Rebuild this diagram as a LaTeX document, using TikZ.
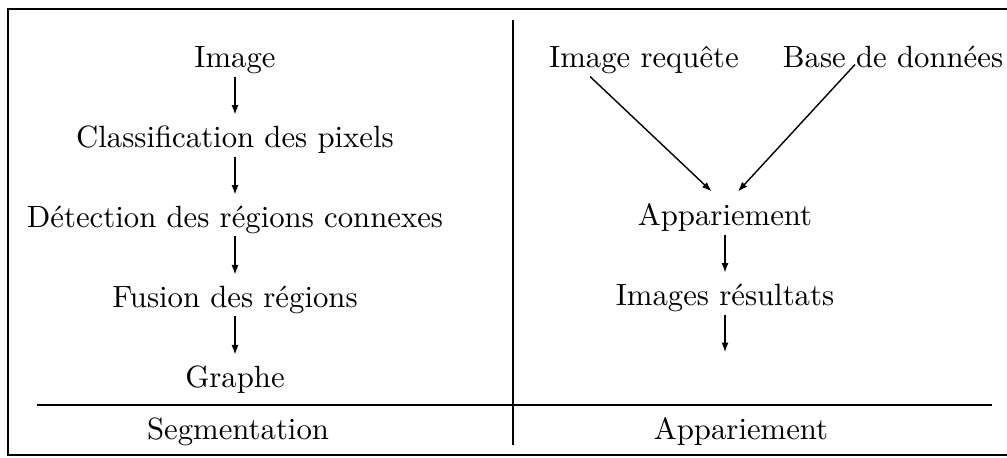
\documentclass[tikz,border=0pt]{standalone}
\usepackage{fontspec}
\setmainfont{lmroman10-regular}[Extension=.otf]
\usetikzlibrary{arrows.meta,positioning}

\begin{document}
\begin{tikzpicture}[x=0.02cm,y=-0.02cm,node distance=1.6cm,line width=0.8pt,
  >={Latex[length=5.5pt,width=4pt]},
  every node/.style={inner sep=1pt,text height=12.5pt,text depth=3.5pt,
    font=\fontsize{17.5}{21}\selectfont}]
\useasboundingbox (0,0) rectangle (1007,457);
% frame and separators
\draw (8,9) rectangle (1020,455);
\draw (37,405) -- (992,405);
\draw (513,20) -- (513,445);
% segmentation
\node	(img)	at (235,60)		{Image};
\node	(cls)	[below of=img]	{Classification des pixels};
\node	(det)	[below of=cls]	{Détection des régions connexes};
\node	(fus)	[below of=det]	{Fusion des régions};
\node	(gra)	[below of=fus]	{Graphe};
% matching
\node	(req)	at (644,60)		{Image requête};
\node	(bdd)	at (893,60)		{Base de données};
\node	(app)	at (725,218)	{Appariement};
\node	(res)	[below of=app]	{Images résultats};
\coordinate	(out)	at (725,361);
% captions
\node	(seg)	at (238,432)	{Segmentation};
\node	(mat)	at (741,432)	{Appariement};
\path[->,shorten >=5pt]	(img.south)	edge	(cls.north)
			(cls.south)	edge	(det.north)
			(det.south)	edge	(fus.north)
			(fus.south)	edge	(gra.north)
			([xshift=-1.08cm]req.south)	edge	([xshift=-0.14cm,yshift=0.08cm]app.north)
			([xshift=-0.76cm,yshift=0.24cm]bdd.south)	edge	([xshift=0.14cm,yshift=0.07cm]app.north)
			(app.south)	edge	(res.north)
			(res.south)	edge	(out);
\end{tikzpicture}
\end{document}
